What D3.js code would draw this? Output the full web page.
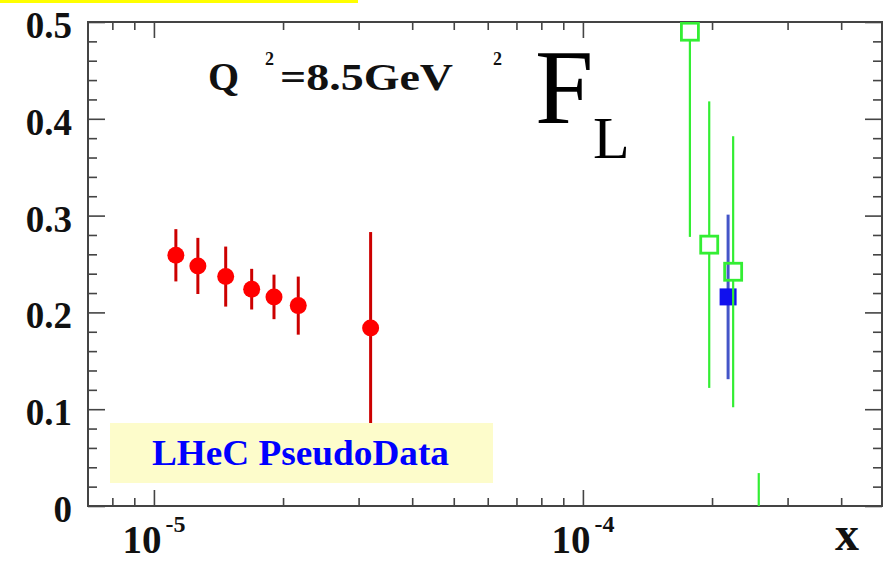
<!DOCTYPE html>
<html>
<head>
<meta charset="utf-8">
<script src="https://cdn.jsdelivr.net/npm/d3@7"></script>
<style>
  html, body { margin: 0; padding: 0; background: #ffffff; }
  svg { display: block; }
  text { font-family: "Liberation Serif", "DejaVu Serif", serif; }
</style>
</head>
<body>
<svg id="chart" width="888" height="561"></svg>
<script>
// ---- data: F_L at Q^2 = 8.5 GeV^2 ----
const redX   = [1.125e-5, 1.266e-5, 1.47e-5, 1.69e-5, 1.905e-5, 2.17e-5, 3.2e-5];
const redY   = [0.259, 0.248, 0.237, 0.224, 0.216, 0.207, 0.184];
const redErr = [0.027, 0.029, 0.031, 0.021, 0.023, 0.030, 0.099];

const greenX   = [1.776e-4, 1.97e-4, 2.24e-4, 2.57e-4];
const greenY   = [0.490, 0.270, 0.242, -0.12];
const greenErr = [0.212, 0.148, 0.140, 0.154];

const blueX   = [2.18e-4];
const blueY   = [0.216];
const blueErr = [0.085];

const yMajorTicks = [0, 0.1, 0.2, 0.3, 0.4, 0.5];
const yTickLabels = ["0", "0.1", "0.2", "0.3", "0.4", "0.5"];
const xMajorTicks = [1e-5, 1e-4];
const xTickExponents = ["-5", "-4"];

// ---- layout ----
const L = 88, R = 882, T = 22, B = 506;
const svg = d3.select("#chart");

const x = d3.scaleLog().domain([7.02e-6, 4.98e-4]).range([L, R]);
const y = d3.scaleLinear().domain([0, 0.5]).range([B, T]);

svg.append("rect").attr("width", 888).attr("height", 561).attr("fill", "#ffffff");
// highlight strip along the top edge
svg.append("rect").attr("x", 0).attr("y", 0).attr("width", 358).attr("height", 3).attr("fill", "#ffff00");

// minor tick positions
const yMinor = d3.range(0, 0.5001, 0.02).filter(v => !yMajorTicks.some(m => Math.abs(m - v) < 1e-9));
const xMinor = [];
[1e-6, 1e-5, 1e-4].forEach(dec => {
  for (let k = 2; k <= 9; k++) {
    const v = dec * k;
    if (v > x.domain()[0] && v < x.domain()[1]) xMinor.push(v);
  }
});

const axisColor = "#444";
function styleAxis(g) {
  g.select(".domain").remove();
  g.selectAll(".tick line").attr("stroke", axisColor).attr("stroke-width", 1.6);
  g.selectAll(".tick text").remove();
}

// ticks pointing into the frame on all four sides
svg.append("g").attr("transform", `translate(${L},0)`)
  .call(d3.axisLeft(y).tickValues(yMajorTicks).tickSize(-17).tickFormat(() => "")).call(styleAxis);
svg.append("g").attr("transform", `translate(${L},0)`)
  .call(d3.axisLeft(y).tickValues(yMinor).tickSize(-9).tickFormat(() => "")).call(styleAxis);
svg.append("g").attr("transform", `translate(${R},0)`)
  .call(d3.axisRight(y).tickValues(yMajorTicks).tickSize(-17).tickFormat(() => "")).call(styleAxis);
svg.append("g").attr("transform", `translate(${R},0)`)
  .call(d3.axisRight(y).tickValues(yMinor).tickSize(-9).tickFormat(() => "")).call(styleAxis);
svg.append("g").attr("transform", `translate(0,${B})`)
  .call(d3.axisBottom(x).tickValues(xMajorTicks).tickSize(-16).tickFormat(() => "")).call(styleAxis);
svg.append("g").attr("transform", `translate(0,${B})`)
  .call(d3.axisBottom(x).tickValues(xMinor).tickSize(-8).tickFormat(() => "")).call(styleAxis);
svg.append("g").attr("transform", `translate(0,${T})`)
  .call(d3.axisTop(x).tickValues(xMajorTicks).tickSize(-16).tickFormat(() => "")).call(styleAxis);
svg.append("g").attr("transform", `translate(0,${T})`)
  .call(d3.axisTop(x).tickValues(xMinor).tickSize(-8).tickFormat(() => "")).call(styleAxis);

// frame
svg.append("rect").attr("x", L).attr("y", T).attr("width", R - L).attr("height", B - T)
  .attr("fill", "none").attr("stroke", axisColor).attr("stroke-width", 2);

// y tick labels
svg.append("g").selectAll("text").data(yMajorTicks).join("text")
  .attr("x", 72).attr("y", d => y(d) + 16)
  .attr("text-anchor", "end").attr("font-weight", "bold").attr("font-size", 37).attr("fill", "#111")
  .text((d, i) => yTickLabels[i]);

// x tick labels: 10^n
const xl = svg.append("g").selectAll("text").data(xMajorTicks).join("text")
  .attr("x", d => x(d)).attr("y", 553)
  .attr("text-anchor", "middle").attr("font-weight", "bold").attr("fill", "#111");
xl.append("tspan").attr("font-size", 39).text("10");
xl.append("tspan").attr("font-size", 24).attr("dx", 4).attr("dy", -21).text((d, i) => xTickExponents[i]);

// x axis title
svg.append("text").attr("x", 859).attr("y", 550).attr("text-anchor", "end")
  .attr("font-weight", "bold").attr("font-size", 48).attr("fill", "#111").text("x");

// plot contents clipped to the frame
svg.append("clipPath").attr("id", "frameClip")
  .append("rect").attr("x", L).attr("y", T).attr("width", R - L).attr("height", B - T);
const plot = svg.append("g").attr("clip-path", "url(#frameClip)");

// blue point (filled square)
const blue = blueX.map((v, i) => ({ x: v, y: blueY[i], e: blueErr[i] }));
plot.append("g").selectAll("line").data(blue).join("line")
  .attr("x1", d => x(d.x)).attr("x2", d => x(d.x))
  .attr("y1", d => y(d.y + d.e)).attr("y2", d => y(d.y - d.e))
  .attr("stroke", "#4455c8").attr("stroke-width", 3);
plot.append("g").selectAll("rect").data(blue).join("rect")
  .attr("x", d => x(d.x) - 8.5).attr("y", d => y(d.y) - 8.5)
  .attr("width", 17).attr("height", 17).attr("fill", "#1010ee");

// green points (open squares); bars stop at the marker edge
const green = greenX.map((v, i) => ({ x: v, y: greenY[i], e: greenErr[i] }));
const half = 8.5;
const gBars = plot.append("g").attr("stroke", "#33ee33").attr("stroke-width", 2.2);
gBars.selectAll("line.up").data(green).join("line").attr("class", "up")
  .attr("x1", d => x(d.x)).attr("x2", d => x(d.x))
  .attr("y1", d => y(d.y + d.e)).attr("y2", d => y(d.y) - half);
gBars.selectAll("line.down").data(green).join("line").attr("class", "down")
  .attr("x1", d => x(d.x)).attr("x2", d => x(d.x))
  .attr("y1", d => y(d.y) + half).attr("y2", d => y(d.y - d.e));
plot.append("g").selectAll("rect").data(green).join("rect")
  .attr("x", d => x(d.x) - half).attr("y", d => y(d.y) - half)
  .attr("width", 2 * half).attr("height", 2 * half)
  .attr("fill", "none").attr("stroke", "#33ee33").attr("stroke-width", 2.8);

// red points (filled circles)
const red = redX.map((v, i) => ({ x: v, y: redY[i], e: redErr[i] }));
plot.append("g").selectAll("line").data(red).join("line")
  .attr("x1", d => x(d.x)).attr("x2", d => x(d.x))
  .attr("y1", d => y(d.y + d.e)).attr("y2", d => y(d.y - d.e))
  .attr("stroke", "#cc0000").attr("stroke-width", 3);
plot.append("g").selectAll("circle").data(red).join("circle")
  .attr("cx", d => x(d.x)).attr("cy", d => y(d.y)).attr("r", 8.5).attr("fill", "#ff0000");

// label box
svg.append("rect").attr("x", 110).attr("y", 423).attr("width", 383).attr("height", 60).attr("fill", "#fdfccb");
svg.append("text").attr("x", 152).attr("y", 465)
  .attr("font-weight", "bold").attr("font-size", 36).attr("fill", "#0000ff")
  .attr("textLength", 297).attr("lengthAdjust", "spacingAndGlyphs")
  .text("LHeC PseudoData");

// Q^2 annotation
const ann = svg.append("g").attr("font-weight", "bold").attr("fill", "#111");
ann.append("text").attr("x", 208).attr("y", 90).attr("font-size", 40).text("Q");
ann.append("text").attr("x", 265).attr("y", 65).attr("font-size", 18).text("2");
ann.append("text").attr("x", 280).attr("y", 90).attr("font-size", 38)
  .attr("textLength", 173).attr("lengthAdjust", "spacingAndGlyphs").text("=8.5GeV");
ann.append("text").attr("x", 493).attr("y", 65).attr("font-size", 18).text("2");

// F_L
svg.append("text").attr("x", 535).attr("y", 123).attr("font-size", 105).attr("fill", "#000").text("F");
svg.append("text").attr("x", 593).attr("y", 158).attr("font-size", 60).attr("fill", "#000").text("L");
</script>
</body>
</html>
